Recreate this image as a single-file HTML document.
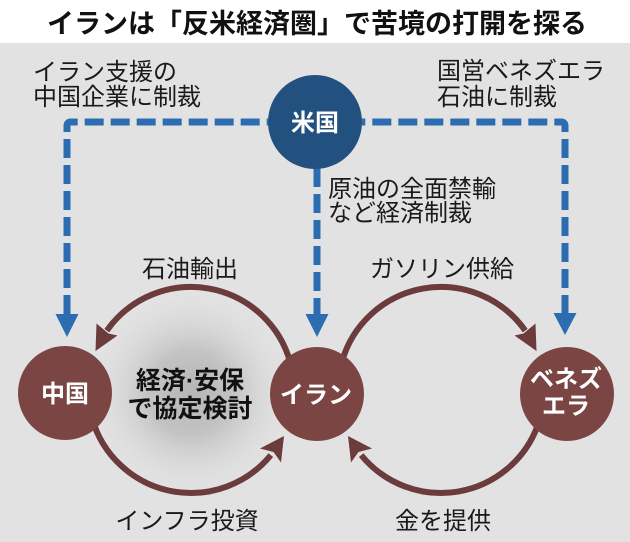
<!DOCTYPE html>
<html>
<head>
<meta charset="utf-8">
<style>
html,body{margin:0;padding:0;background:#fff;}
svg{display:block;}
text{font-family:"Liberation Sans","Noto Sans CJK JP",sans-serif;}
.t{font-size:24px;fill:#1a1a1a;}
.b{font-weight:bold;}
.w{fill:#fff;font-weight:bold;font-size:24px;}
</style>
</head>
<body>
<svg width="630" height="542" viewBox="0 0 630 542" xmlns="http://www.w3.org/2000/svg">
  <defs>
    <radialGradient id="glow" cx="191" cy="393" r="105" gradientUnits="userSpaceOnUse">
      <stop offset="0" stop-color="#b6b6b6"/>
      <stop offset="0.4" stop-color="#c3c3c3"/>
      <stop offset="1" stop-color="#e2e2e2" stop-opacity="0"/>
    </radialGradient>
  </defs>
  <rect x="0" y="0" width="630" height="542" fill="#ffffff"/>
  <rect x="0" y="43" width="630" height="499" fill="#e2e2e2"/>

  <!-- title -->
  <text x="317" y="33" text-anchor="middle" class="b" style="font-size:27px;fill:#111;" textLength="540" lengthAdjust="spacing">イランは「反米経済圏」で苦境の打開を探る</text>

  <!-- glow -->
  <circle cx="191" cy="393" r="105" fill="url(#glow)"/>

  <!-- annotations -->
  <text x="33" y="80" class="t">イラン支援の</text>
  <text x="33" y="105" class="t">中国企業に制裁</text>
  <text x="437" y="79" class="t">国営ベネズエラ</text>
  <text x="437" y="105" class="t">石油に制裁</text>
  <text x="328" y="197" class="t">原油の全面禁輸</text>
  <text x="328" y="221" class="t">など経済制裁</text>
  <text x="190" y="277" class="t" text-anchor="middle">石油輸出</text>
  <text x="442" y="277" class="t" text-anchor="middle">ガソリン供給</text>
  <text x="187" y="529" class="t" text-anchor="middle">インフラ投資</text>
  <text x="443" y="529" class="t" text-anchor="middle">金を提供</text>

  <!-- blue dashed lines -->
  <g fill="none" stroke="#2c6db2" stroke-width="7">
    <path d="M67,314 V126 Q67,122 71,122 H268" stroke-dasharray="19 7"/>
    <path d="M565,314 V126 Q565,122 561,122 H362" stroke-dasharray="19 7"/>
    <path d="M317,168 V314" stroke-dasharray="19 7"/>
  </g>
  <g fill="#2c6db2">
    <polygon points="55.5,314 78.5,314 67,337"/>
    <polygon points="305.5,314 328.5,314 317,337"/>
    <polygon points="553.5,313 576.5,313 565,335"/>
  </g>

  <!-- brown arcs -->
  <g fill="none" stroke="#6c3b3c" stroke-width="6">
    <path d="M290.5,363.3 A103,103 0 0 0 106.8,330.6"/>
    <path d="M94.2,425.2 A103,103 0 0 0 270.8,455.1"/>
    <path d="M341.5,363.3 A103,103 0 0 1 525.2,330.6"/>
    <path d="M537.8,425.2 A103,103 0 0 1 361.2,455.1"/>
  </g>
  <g fill="#6c3b3c">
    <polygon points="95.5,351 117.5,335.5 108.4,333.5 96.5,323.5"/>
    <polygon points="284,436 281,462.5 273.5,452.0 260,448.5"/>
    <polygon points="536.5,351 535.5,323.5 523.6,333.5 514.5,335.5"/>
    <polygon points="348,436 372,448.5 358.5,452.0 351,462.5"/>
  </g>

  <!-- nodes -->
  <circle cx="315" cy="122" r="47" fill="#22507f"/>
  <text x="315" y="131" class="w" text-anchor="middle">米国</text>

  <circle cx="65" cy="393" r="47" fill="#7a4543"/>
  <text x="65" y="402" class="w" text-anchor="middle">中国</text>

  <circle cx="317" cy="394" r="47" fill="#7a4543"/>
  <text x="316" y="403" class="w" text-anchor="middle">イラン</text>

  <circle cx="567" cy="394" r="47" fill="#7a4543"/>
  <text x="566" y="387" class="w" text-anchor="middle">ベネズ</text>
  <text x="566" y="414" class="w" text-anchor="middle">エラ</text>

  <!-- center label -->
  <text x="190" y="389" class="b" text-anchor="middle" style="fill:#111;font-size:25px;">経済·安保</text>
  <text x="190" y="417" class="b" text-anchor="middle" style="fill:#111;font-size:25px;">で協定検討</text>
</svg>
</body>
</html>
